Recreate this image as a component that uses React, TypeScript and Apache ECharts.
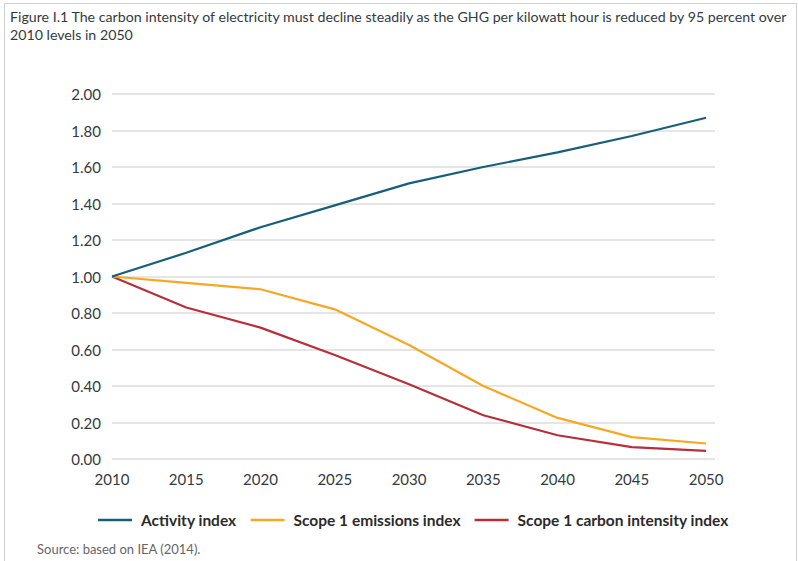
import React, { useEffect, useRef } from "react";
import * as echarts from "echarts";

const years = [2010, 2015, 2020, 2025, 2030, 2035, 2040, 2045, 2050];
const activityIndex = [1.0, 1.13, 1.27, 1.39, 1.51, 1.6, 1.68, 1.77, 1.87];
const emissionsIndex = [1.0, 0.965, 0.93, 0.82, 0.625, 0.4, 0.225, 0.12, 0.085];
const carbonIntensityIndex = [1.0, 0.83, 0.72, 0.57, 0.41, 0.24, 0.13, 0.065, 0.045];
const seriesNames = ["Activity index", "Scope 1 emissions index", "Scope 1 carbon intensity index"];
const titleLines = [
  "Figure I.1 The carbon intensity of electricity must decline steadily as the GHG per kilowatt hour is reduced by 95 percent over",
  "2010 levels in 2050",
];
const sourceText = "Source: based on IEA (2014).";

const colors = ["#175f78", "#f6a723", "#b5303a"];
const FONT = "Lato, 'Open Sans', sans-serif";

export default function App() {
  const ref = useRef<HTMLDivElement>(null);
  useEffect(() => {
    document.body.style.margin = "0";
    const chart = echarts.init(ref.current!, null, { renderer: "svg" });
    const pairs = (vals: number[]) => years.map((y, i) => [y, vals[i]]);
    const allSeries = [activityIndex, emissionsIndex, carbonIntensityIndex];
    chart.setOption({
      animation: false,
      backgroundColor: "#ffffff",
      textStyle: { fontFamily: FONT },
      grid: { left: 112, right: 83, top: 94, bottom: 102 },
      xAxis: {
        type: "value",
        min: 2010,
        max: 2050.6,
        interval: 5,
        axisLine: { show: false },
        axisTick: { show: false },
        splitLine: { show: false },
        axisLabel: {
          margin: 12,
          fontSize: 15,
          color: "#333a40",
          fontFamily: FONT,
          showMaxLabel: false,
          formatter: (v: number) => (Number.isInteger(v) && v % 5 === 0 ? String(v) : ""),
        },
      },
      yAxis: {
        type: "value",
        min: 0,
        max: 2,
        interval: 0.2,
        axisLine: { show: false },
        axisTick: { show: false },
        splitLine: { lineStyle: { color: "#dcdcdc", width: 1.5 } },
        axisLabel: {
          margin: 11,
          fontSize: 15,
          color: "#333a40",
          fontFamily: FONT,
          formatter: (v: number) => v.toFixed(2),
        },
      },
      legend: {
        left: 93,
        top: 507,
        itemWidth: 34,
        itemHeight: 2.5,
        itemGap: 14,
        icon: "rect",
        textStyle: { fontSize: 15.5, fontWeight: "bold", color: "#2b2b2b", fontFamily: FONT, padding: [0, 0, 0, 4] },
        data: seriesNames,
      },
      series: allSeries.map((vals, i) => ({
        name: seriesNames[i],
        type: "line",
        data: pairs(vals),
        symbol: "none",
        lineStyle: { color: colors[i], width: 2.2 },
        itemStyle: { color: colors[i] },
        z: 3 - i,
      })),
      graphic: [
        {
          type: "rect",
          shape: { x: 4.5, y: 3.5, width: 792, height: 570 },
          style: { fill: "none", stroke: "#d0d0d0", lineWidth: 1 },
          silent: true,
        },
        ...titleLines.map((t, i) => ({
          type: "text",
          left: 10,
          top: 9 + i * 18,
          style: { text: t, fontSize: 14.2, fill: "#333a40", fontFamily: FONT },
        })),
        {
          type: "text",
          left: 37,
          top: 542,
          style: { text: sourceText, fontSize: 13, fill: "#666666", fontFamily: FONT },
        },
      ],
    });
    return () => chart.dispose();
  }, []);
  return <div ref={ref} style={{ position: "fixed", left: 0, top: 0, width: 798, height: 561 }} />;
}
